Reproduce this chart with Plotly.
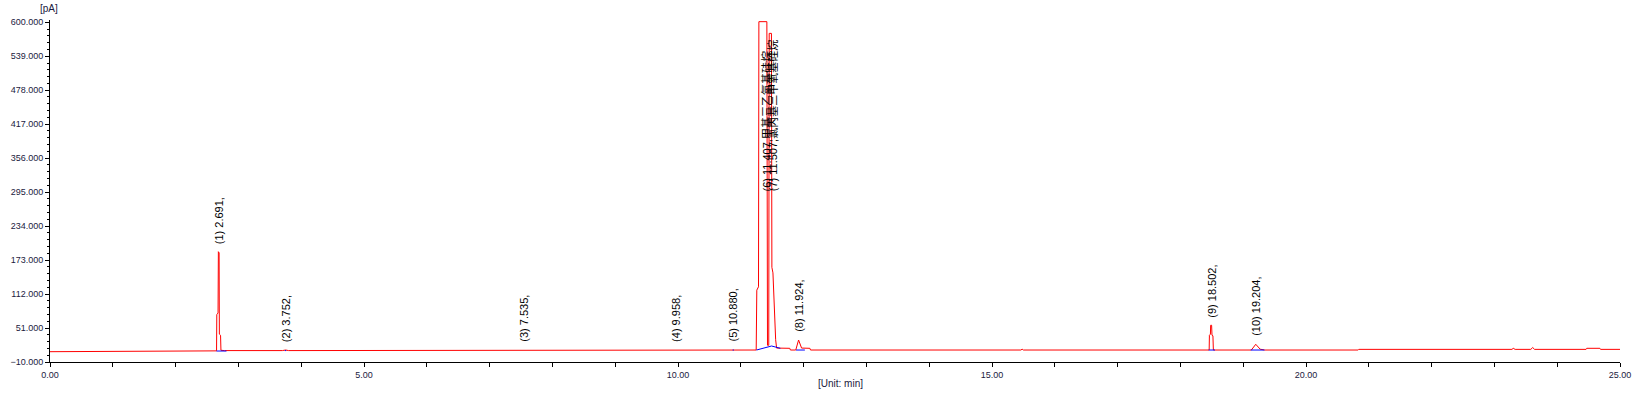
import plotly.graph_objects as go

# ---- data ----
# red detector signal: retention time (min) and signal (pA)
sig_time = [0.0, 2.60, 2.652, 2.656, 2.676, 2.681, 2.693, 2.697, 2.716, 2.722, 2.78,
            3.70, 3.752, 3.80, 7.50, 7.535, 7.57, 9.92, 9.958, 10.0, 10.85, 10.880, 10.91,
            11.245, 11.255, 11.282, 11.288, 11.415, 11.425, 11.445, 11.452, 11.488, 11.495,
            11.512, 11.555, 11.57, 11.78, 11.79, 11.875, 11.92, 11.968, 12.10, 12.11,
            15.46, 15.48, 15.50, 18.458, 18.462, 18.478, 18.482, 18.497, 18.503, 18.518,
            18.525, 19.13, 19.20, 19.27, 19.34, 20.83, 20.84, 23.28, 23.30, 23.33,
            23.58, 23.61, 23.64, 24.46, 24.47, 24.68, 24.69, 25.0]
sig_pa = [8.5, 9.5, 10.0, 75.0, 78.0, 188.0, 186.0, 40.0, 38.0, 11.0, 10.5,
          10.5, 11.5, 10.5, 11.0, 11.5, 11.0, 11.0, 11.5, 11.0, 11.0, 12.0, 11.0,
          11.5, 119.0, 125.0, 601.0, 601.0, 20.0, 20.0, 580.0, 580.0, 160.0,
          150.0, 30.0, 15.0, 14.6, 11.5, 11.5, 29.5, 15.0, 14.6, 11.5,
          11.5, 13.0, 11.5, 11.5, 38.0, 40.0, 56.0, 56.0, 38.0, 37.0,
          11.5, 11.5, 21.8, 13.0, 11.5, 11.5, 12.7, 12.7, 14.6, 12.7,
          12.7, 16.0, 12.7, 12.7, 14.6, 14.6, 12.7, 12.7]

# blue integration baselines (None separates segments)
base_time = [2.65, 2.81, None, 3.74, 3.76, None, 10.87, 10.89, None,
             11.25, 11.49, 11.63, None, 11.88, 12.02, None, 18.45, 18.55, None,
             19.12, 19.34]
base_pa = [9.7, 9.7, None, 10.5, 10.5, None, 11.5, 11.5, None,
           11.5, 18.7, 14.6, None, 11.5, 11.5, None, 11.5, 11.5, None,
           11.5, 11.5]

# peak labels
peak_labels = ["(1) 2.691,", "(2) 3.752,", "(3) 7.535,", "(4) 9.958,", "(5) 10.880,",
               "(6) 11.407,甲基三乙氧基硅烷", "(7) 11.507,氯丙基三甲氧基硅烷",
               "(8) 11.924,", "(9) 18.502,", "(10) 19.204,"]
peak_times = [2.691, 3.752, 7.535, 9.958, 10.880, 11.407, 11.507, 11.924, 18.502, 19.204]
label_base = [188.0, 11.5, 11.5, 11.5, 12.0, 295.0, 295.0, 29.5, 56.0, 21.8]

y_ticks = [-10, 51, 112, 173, 234, 295, 356, 417, 478, 539, 600]

FONT = "Arial, Liberation Sans, sans-serif"
TICKCOL = "#1a1a40"

fig = go.Figure()
fig.add_trace(go.Scatter(x=sig_time, y=sig_pa, mode="lines",
                         line=dict(color="#ff0000", width=1), hoverinfo="skip"))
fig.add_trace(go.Scatter(x=base_time, y=base_pa, mode="lines",
                         line=dict(color="#0000ff", width=1), hoverinfo="skip",
                         connectgaps=False))

annotations = []
for txt, t, v in zip(peak_labels, peak_times, label_base):
    shift = 7 if v < 290 else 0
    annotations.append(dict(x=t, y=v, xref="x", yref="y", text=txt, showarrow=False,
                            textangle=-90, xanchor="center", yanchor="bottom",
                            yshift=shift, borderpad=0,
                            font=dict(family=FONT + ", Noto Sans CJK SC", size=11,
                                      color="#000000")))
annotations.append(dict(x=-1.5 / 1570, y=1, xref="paper", yref="paper", text="[pA]",
                        showarrow=False, xanchor="center", yanchor="middle", yshift=12,
                        font=dict(family=FONT, size=10, color=TICKCOL)))
annotations.append(dict(x=(840 - 50) / 1570, y=0, xref="paper", yref="paper",
                        text="[Unit: min]", showarrow=False, xanchor="center",
                        yanchor="middle", yshift=-21,
                        font=dict(family=FONT, size=10, color=TICKCOL)))

fig.update_layout(
    width=1636, height=395,
    margin=dict(l=50, r=16, t=20, b=33, autoexpand=False),
    paper_bgcolor="white", plot_bgcolor="white",
    showlegend=False,
    hovermode=False,
    annotations=annotations,
    xaxis=dict(range=[0, 25], tick0=0, dtick=5, tickformat=".2f", automargin=False,
               showgrid=False, zeroline=False, showline=True, linecolor="black",
               linewidth=1, ticks="outside", ticklen=4, tickcolor="black",
               tickfont=dict(family=FONT, size=9, color=TICKCOL),
               minor=dict(dtick=1, tick0=0, ticks="outside", ticklen=4,
                          tickcolor="black", showgrid=False)),
    yaxis=dict(range=[-10, 604], tickvals=y_ticks, tickformat=".3f", automargin=False,
               showgrid=False, zeroline=False, showline=True, linecolor="black",
               linewidth=1, ticks="outside", ticklen=4, tickcolor="black",
               tickfont=dict(family=FONT, size=9, color=TICKCOL),
               minor=dict(dtick=12.2, tick0=-10, ticks="outside", ticklen=2,
                          tickcolor="black", showgrid=False)),
)

fig.write_html("out.html", config={"displayModeBar": False},
               post_script="document.body.style.margin='0';document.body.style.overflow='hidden';")
